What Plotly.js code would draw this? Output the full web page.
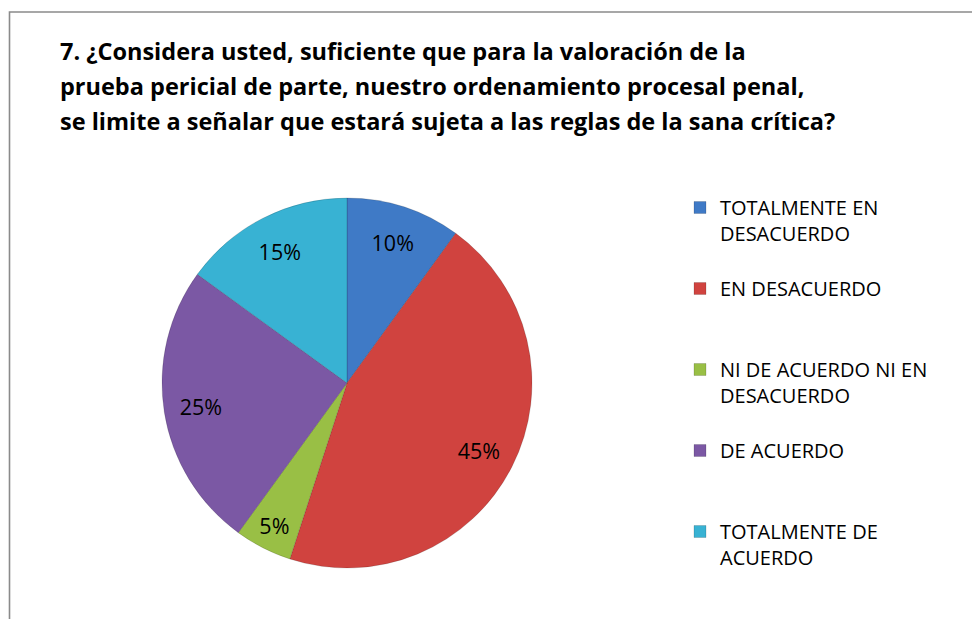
<!DOCTYPE html>
<html>
<head>
<meta charset="utf-8">
<script src="https://cdn.plot.ly/plotly-3.0.1.min.js"></script>
<style>html,body{margin:0;padding:0;background:#fff;}#chart{width:972px;height:619px;}</style>
</head>
<body>
<div id="chart"></div>
<script>
// category names, split where the legend wraps them
var categoryLines = [
  ["TOTALMENTE EN", "DESACUERDO"],
  ["EN DESACUERDO"],
  ["NI DE ACUERDO NI EN", "DESACUERDO"],
  ["DE ACUERDO"],
  ["TOTALMENTE DE", "ACUERDO"]
];
var values = [10, 45, 5, 25, 15];
var colors = ["#3F7AC6", "#D0433F", "#99BF45", "#7B58A4", "#38B2D3"];
var titleLines = [
  "7. ¿Considera usted, suficiente que para la valoración de la",
  "prueba pericial de parte, nuestro ordenamiento procesal penal,",
  "se limite a señalar que estará sujeta a las reglas de la sana crítica?"
];

var W = 972, H = 619;
var cx = 347, cy = 383, r = 185;
var dom = {x: [(cx - r) / W, (cx + r) / W], y: [(H - cy - r) / H, (H - cy + r) / H]};

// legend entries padded to three lines so the entries are evenly spaced like the original
var labels = categoryLines.map(function (lines, i) {
  var out = lines.slice();
  while (out.length < 3 && i < categoryLines.length - 1) out.push("\u00a0");
  return out.join("<br>");
});

var basePie = {
  type: "pie",
  labels: labels,
  values: values,
  sort: false,
  direction: "clockwise",
  rotation: 0,
  marker: {colors: colors, line: {color: "rgba(0,0,0,0.25)", width: 0.6}},
  textinfo: "none",
  domain: dom,
  hoverinfo: "percent"
};

var labelPie = {
  type: "pie",
  labels: labels,
  values: values,
  sort: false,
  direction: "clockwise",
  rotation: 0,
  hole: 0.6,
  showlegend: false,
  marker: {colors: values.map(function () { return "rgba(0,0,0,0)"; }), line: {width: 0}},
  textinfo: "percent",
  textposition: "inside",
  insidetextorientation: "horizontal",
  textfont: {family: "'Open Sans', sans-serif", size: 21.5, color: "#000"},
  domain: dom,
  hoverinfo: "skip"
};

var layout = {
  width: W, height: H,
  margin: {l: 0, r: 0, t: 0, b: 0},
  paper_bgcolor: "#fff",
  showlegend: true,
  title: {
    text: titleLines.map(function (l) { return '<span style="font-size:23.5px"><b>' + l + '</b></span>'; }).join("<br>"),
    x: 60 / W, xref: "container", xanchor: "left",
    y: 1 - 60 / H, yref: "container", yanchor: "top",
    font: {family: "'Open Sans', sans-serif", size: 27, color: "#000"}
  },
  legend: {
    x: 680 / W, xanchor: "left",
    y: 1 - 188 / H, yanchor: "top",
    valign: "top",
    font: {family: "'Open Sans', sans-serif", size: 20, color: "#000"},
    bgcolor: "rgba(0,0,0,0)"
  },
  shapes: [{
    type: "rect", xref: "paper", yref: "paper",
    x0: 9.5 / W, x1: 1.05, y0: -0.05, y1: 1 - 12 / H,
    line: {color: "#8a8a8a", width: 1.6}, fillcolor: "rgba(0,0,0,0)"
  }]
};

Plotly.newPlot("chart", [basePie, labelPie], layout, {displayModeBar: false});
</script>
</body>
</html>
